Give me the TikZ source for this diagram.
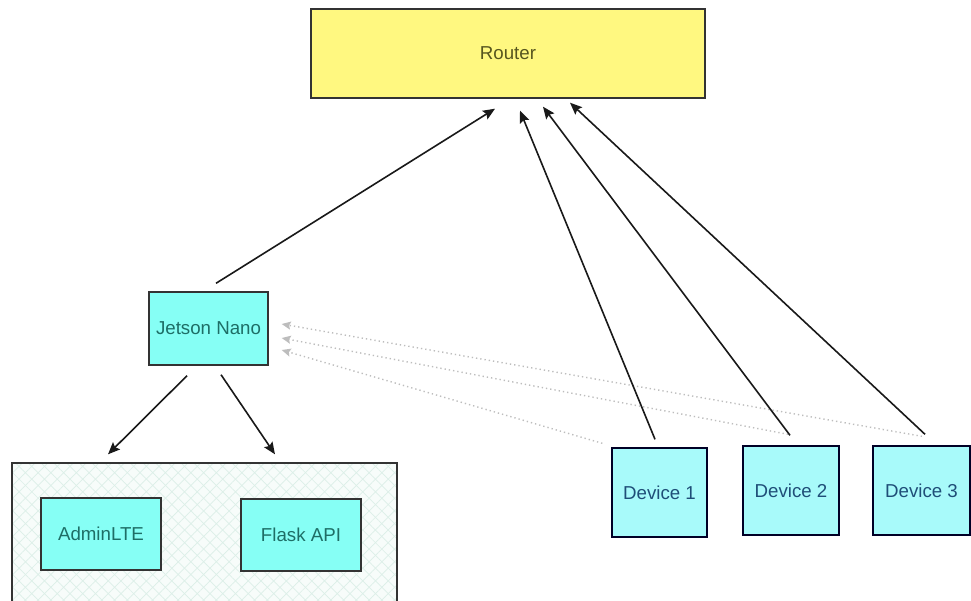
\documentclass[tikz,border=0pt]{standalone}
\usepackage{fontspec}
\setmainfont{Liberation Sans}
\usetikzlibrary{arrows.meta,patterns.meta}
\definecolor{cyanfill}{HTML}{86FFF5}
\definecolor{devfill}{HTML}{A8FAFA}
\definecolor{tealtext}{HTML}{1E6E66}
\definecolor{devtext}{HTML}{1F4E78}
\definecolor{routerfill}{HTML}{FFF880}
\definecolor{routertext}{HTML}{57561F}
\definecolor{hostfill}{HTML}{F7FCFA}
\definecolor{hatch}{HTML}{DCEFE8}
\definecolor{dotgray}{HTML}{BDBDBD}
\tikzset{
  box/.style={draw=black!80, line width=1.4pt, rectangle, inner sep=0pt,
    font=\fontsize{18.7}{22}\selectfont},
  tealbox/.style={box, fill=cyanfill, text=tealtext},
  devbox/.style={box, draw=black!85!blue, fill=devfill, text=devtext},
  arr/.style={line width=1.6pt, black!90, -{Stealth[length=12pt,width=10pt,inset=2pt]}},
  dotarr/.style={line width=1.4pt, dotgray, dash pattern=on 1.3pt off 3pt,
    -{Stealth[length=9pt,width=8pt,inset=1.5pt]}}
}
\begin{document}
\begin{tikzpicture}[x=1pt,y=-1pt]
\useasboundingbox (0,0) rectangle (971,600);
\clip (0,0) rectangle (971,600);
\fill[white] (0,0) rectangle (971,600);

% host container
\node[draw=black!80, line width=1.4pt, fill=hostfill, minimum width=385pt,
  minimum height=147pt, inner sep=0pt] (host) at (204.5,536.5) {};
\fill[pattern={Lines[angle=45,distance=9pt,line width=0.7pt]}, pattern color=hatch] (13,464) rectangle (396,609);
\fill[pattern={Lines[angle=-45,distance=9pt,line width=0.7pt]}, pattern color=hatch] (13,464) rectangle (396,609);
\draw[black!80, line width=1.4pt] (12,463) rectangle (397,610);

\node[box, fill=routerfill, text=routertext, minimum width=394pt, minimum height=89pt]
  (router) at (508,53.5) {Router};
\node[tealbox, minimum width=119pt, minimum height=73pt] (jetson) at (208.5,328.5) {Jetson Nano};
\node[tealbox, minimum width=120pt, minimum height=72pt] (admin) at (101,534) {AdminLTE};
\node[tealbox, minimum width=120pt, minimum height=72pt] (flask) at (301,535) {Flask API};
\node[devbox, minimum width=95pt, minimum height=89pt] (dev1) at (659.5,492.5) {Device 1};
\node[devbox, minimum width=96pt, minimum height=89pt] (dev2) at (791,490.5) {Device 2};
\node[devbox, minimum width=97pt, minimum height=89pt] (dev3) at (921.5,490.5) {Device 3};

% dotted discovery arrows
\draw[dotarr] ([xshift=0.5pt,yshift=9pt]dev3.north) -- ([xshift=13pt,yshift=4.5pt]jetson.east);
\draw[dotarr] ([xshift=-3pt,yshift=11pt]dev2.north) -- ([xshift=13pt,yshift=-9.5pt]jetson.east);
\draw[dotarr] ([xshift=-9pt,yshift=4pt]dev1.north west) -- ([xshift=13pt,yshift=-21.5pt]jetson.east);

% solid arrows to router
\draw[arr] ([xshift=7.5pt,yshift=8pt]jetson.north) -- ([xshift=-13pt,yshift=-10pt]router.south);
\draw[arr] ([xshift=-4.5pt,yshift=8pt]dev1.north) -- ([xshift=12pt,yshift=-12pt]router.south);
\draw[arr] ([xshift=-1pt,yshift=10pt]dev2.north) -- ([xshift=35pt,yshift=-8pt]router.south);
\draw[arr] ([xshift=3.5pt,yshift=11pt]dev3.north) -- ([xshift=62pt,yshift=-4pt]router.south);

% jetson to host
\draw[arr] ([xshift=-21.5pt,yshift=-10pt]jetson.south) -- ([xshift=-96.5pt,yshift=8pt]host.north);
\draw[arr] ([xshift=12.5pt,yshift=-9pt]jetson.south) -- ([xshift=70.5pt,yshift=8pt]host.north);
\end{tikzpicture}
\end{document}
